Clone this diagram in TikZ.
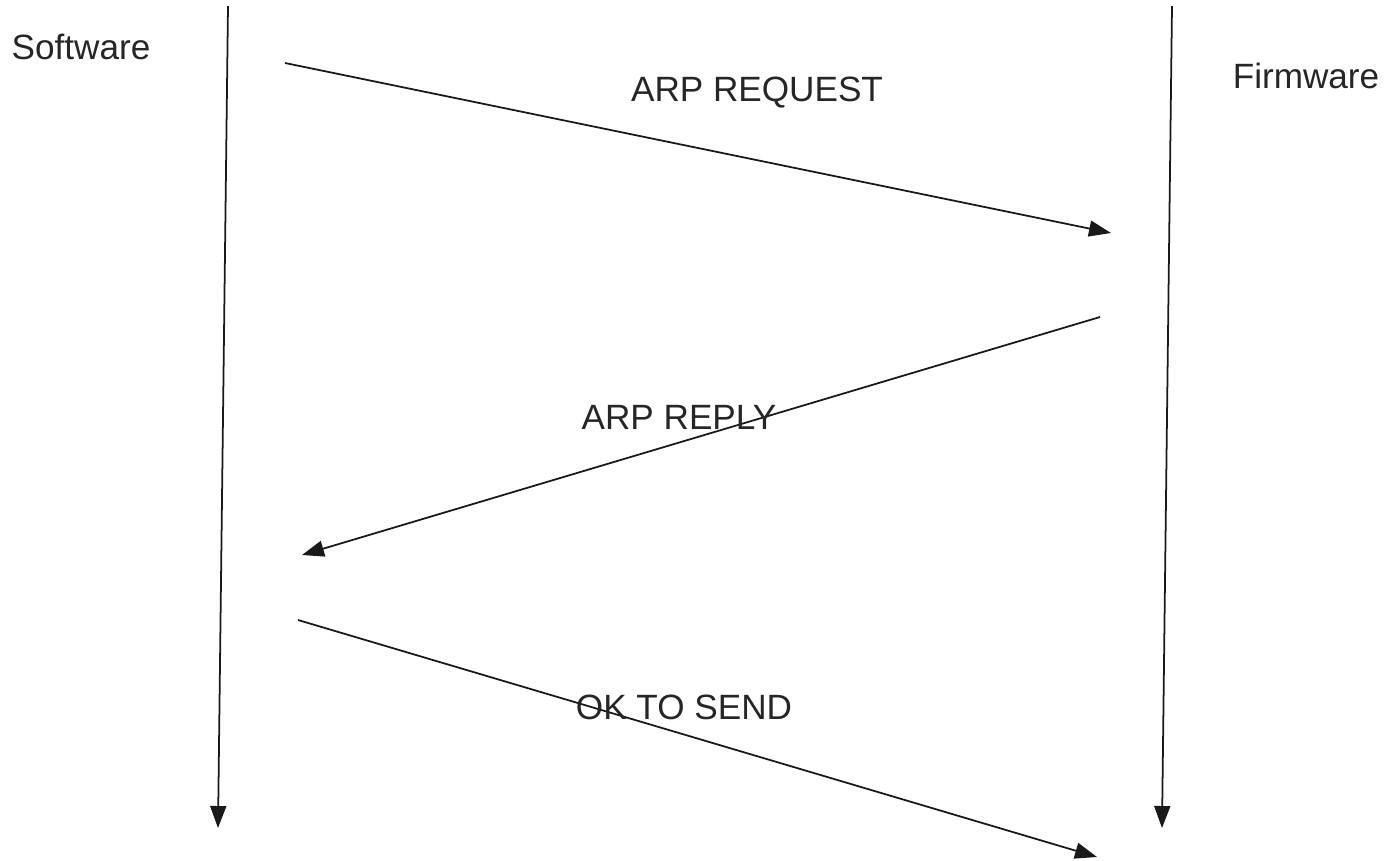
\documentclass[tikz,border=0pt]{standalone}
\usepackage{fontspec}
\setmainfont{Liberation Sans}
\usetikzlibrary{arrows.meta}

\begin{document}
\begin{tikzpicture}
[x=0.02cm,y=-0.02cm,
 every node/.style={text=black!85,font=\fontsize{20}{24}\selectfont},
 msg/.style={draw=black!90,line width=1pt,-{Triangle[length=0.44cm,width=0.32cm]}}]
\useasboundingbox (0,0) rectangle (1390,860);
\node (sw) at (81,47) {Software};
\node (fw) at (1306,76) {Firmware};
\coordinate (swtop) at (228,6);
\coordinate (swbot) at (218,828);
\coordinate (fwtop) at (1172,6);
\coordinate (fwbot) at (1162,828);
\coordinate (req1) at (285,63);
\coordinate (req2) at (1111,233);
\coordinate (rep1) at (1100,317);
\coordinate (rep2) at (302,555);
\coordinate (ok1) at (298,620);
\coordinate (ok2) at (1097,857);
\draw[msg] (swtop) -- (swbot);
\draw[msg] (fwtop) -- (fwbot);
\draw[msg] (req1) -- (req2);
\draw[msg] (rep1) -- (rep2);
\draw[msg] (ok1) -- (ok2);
\node (lreq) at (757,93) {ARP REQUEST};
\node (lrep) at (679,417) {ARP REPLY};
\node (lok) at (684,707) {OK TO SEND};
\end{tikzpicture}
\end{document}
